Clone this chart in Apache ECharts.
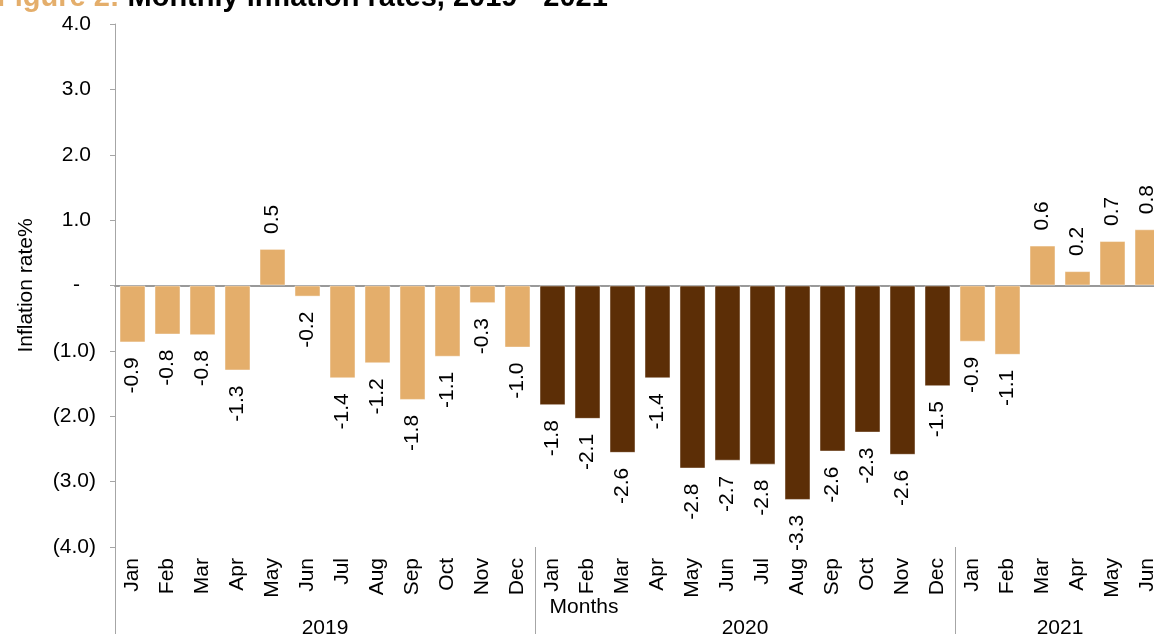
<!DOCTYPE html>
<html>
<head>
<meta charset="utf-8">
<script src="https://cdn.jsdelivr.net/npm/echarts@6/dist/echarts.min.js"></script>
<style>
html,body{margin:0;padding:0;background:#fff;overflow:hidden;}
#chart{width:1154px;height:634px;}
</style>
</head>
<body>
<div id="chart"></div>
<script>
// ---- data ----
const months = ['Jan','Feb','Mar','Apr','May','Jun','Jul','Aug','Sep','Oct','Nov','Dec',
                'Jan','Feb','Mar','Apr','May','Jun','Jul','Aug','Sep','Oct','Nov','Dec',
                'Jan','Feb','Mar','Apr','May','Jun'];
const years = ['2019','2020','2021'];
const yearSpans = [12, 12, 6];
// bar heights
const values = [-0.87,-0.75,-0.76,-1.30,0.56,-0.17,-1.42,-1.19,-1.75,-1.09,-0.27,-0.95,
                -1.83,-2.04,-2.56,-1.42,-2.80,-2.68,-2.74,-3.28,-2.54,-2.25,-2.59,-1.54,
                -0.86,-1.06,0.61,0.22,0.68,0.86];
// data labels as printed on the chart
const labels = ['-0.9','-0.8','-0.8','-1.3','0.5','-0.2','-1.4','-1.2','-1.8','-1.1','-0.3','-1.0',
                '-1.8','-2.1','-2.6','-1.4','-2.8','-2.7','-2.8','-3.3','-2.6','-2.3','-2.6','-1.5',
                '-0.9','-1.1','0.6','0.2','0.7','0.8'];
const yTicks = [-4, -3, -2, -1, 0, 1, 2, 3, 4];

// ---- styling ----
const FONT = 'Liberation Sans, Arial, sans-serif';
const LIGHT = '#E4AE6B';
const DARK = '#5C2E06';
const yearColors = [LIGHT, DARK, LIGHT];
const AXIS_GREY = '#A6A6A6';

// year of each bar, derived from yearSpans
const barYear = [];
yearSpans.forEach((n, yi) => { for (let k = 0; k < n; k++) barYear.push(yi); });
// year label centres and separators on a 0..N value axis
const yearCenters = [], yearBounds = [0];
let acc = 0;
yearSpans.forEach(n => { yearCenters.push(acc + n / 2); acc += n; yearBounds.push(acc); });

const seriesData = values.map((v, i) => ({
  value: v,
  itemStyle: { color: yearColors[barYear[i]] },
  label: {
    position: v < 0 ? 'bottom' : 'top',
    align: v < 0 ? 'right' : 'left',
    verticalAlign: 'middle',
    formatter: labels[i]
  }
}));

const chart = echarts.init(document.getElementById('chart'), null, { renderer: 'canvas' });
chart.setOption({
  animation: false,
  backgroundColor: '#ffffff',
  textStyle: { fontFamily: FONT },
  title: {
    text: '{a|Figure 2:} {b|Monthly inflation rates, 2019 - 2021}',
    left: -3, top: -17, padding: 0,
    textStyle: {
      fontFamily: FONT, fontSize: 29, fontWeight: 'bold', color: '#000',
      rich: {
        a: { fontFamily: FONT, fontSize: 29, fontWeight: 'bold', color: LIGHT },
        b: { fontFamily: FONT, fontSize: 29, fontWeight: 'bold', color: '#000' }
      }
    }
  },
  grid: { left: 115, right: -11, top: 24, bottom: 87, containLabel: false, outerBoundsMode: 'none' },
  yAxis: {
    type: 'value', min: yTicks[0], max: yTicks[yTicks.length - 1], interval: 1,
    name: 'Inflation rate%', nameLocation: 'middle', nameGap: 78, nameMoveOverlap: false,
    nameTextStyle: { fontFamily: FONT, fontSize: 21, color: '#000' },
    axisLine: { show: true, onZero: false, lineStyle: { color: AXIS_GREY, width: 1 } },
    axisTick: { show: true, length: 5, lineStyle: { color: AXIS_GREY } },
    splitLine: { show: false },
    axisLabel: {
      fontFamily: FONT, fontSize: 21, color: '#000', margin: 19,
      formatter: v => {
        if (v > 0) return '{p|' + v.toFixed(1) + '}';
        if (v < 0) return '(' + Math.abs(v).toFixed(1) + ')';
        return '{z|-}';
      },
      rich: {
        p: { fontFamily: FONT, fontSize: 21, color: '#000', padding: [0, 5, 0, 0] },
        z: { fontFamily: FONT, fontSize: 21, color: '#000', padding: [0, 16, 0, 0] }
      }
    }
  },
  xAxis: [
    {
      type: 'category', data: months, position: 'bottom',
      axisLine: { show: true, onZero: true, lineStyle: { color: '#999999', width: 2 } },
      axisTick: { show: false }, axisLabel: { show: false }, splitLine: { show: false }
    },
    {
      type: 'category', data: months, position: 'bottom',
      axisLine: { show: false, onZero: false },
      axisTick: { show: false }, splitLine: { show: false },
      axisLabel: { show: true, rotate: 90, margin: 11, fontFamily: FONT, fontSize: 21, color: '#000' },
      name: 'Months', nameLocation: 'middle', nameGap: 50, nameMoveOverlap: false,
      nameTextStyle: { fontFamily: FONT, fontSize: 21, color: '#000', padding: [0, 112, 0, 0] }
    },
    {
      type: 'value', min: 0, max: values.length, position: 'bottom',
      axisLine: { show: false, onZero: false },
      splitLine: { show: false },
      axisTick: { show: true, customValues: yearBounds, length: 88, lineStyle: { color: AXIS_GREY, width: 1 } },
      axisLabel: {
        show: true, customValues: yearCenters, margin: 71,
        fontFamily: FONT, fontSize: 21, color: '#000',
        formatter: v => { const i = yearCenters.indexOf(v); return i >= 0 ? years[i] : ''; }
      }
    }
  ],
  series: [{
    type: 'bar', xAxisIndex: 0, yAxisIndex: 0,
    barWidth: 26,
    data: seriesData,
    itemStyle: { borderColor: 'rgba(255,255,255,0.45)', borderWidth: 1 },
    label: {
      show: true, rotate: 90, distance: 15,
      fontFamily: FONT, fontSize: 21, color: '#000'
    }
  }]
});
</script>
</body>
</html>
